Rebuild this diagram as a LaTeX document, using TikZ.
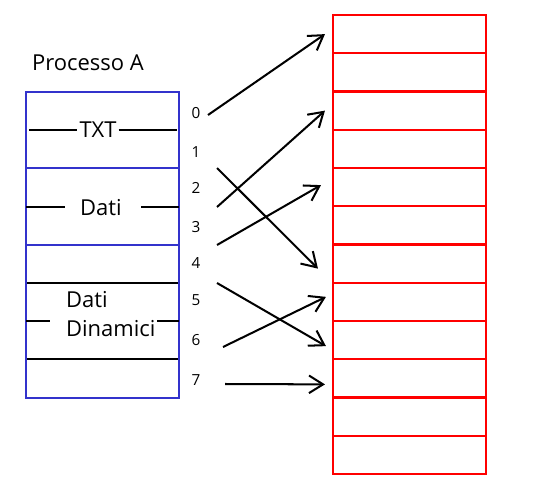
\documentclass[tikz,border=0pt]{standalone}
\usepackage{fontspec}
\setmainfont{Open Sans}
\usetikzlibrary{arrows.meta}
\definecolor{procblue}{RGB}{51,51,204}
\tikzset{
  cell/.style={draw=red,line width=1.2pt,minimum width=3.06cm,minimum height=0.765cm,inner sep=0pt},
  lbl/.style={font=\fontsize{12.5}{16.4}\selectfont,inner sep=1pt},
  num/.style={font=\fontsize{8.7}{10}\selectfont,inner sep=1pt},
  map/.style={line width=1.15pt,-{Straight Barb[length=8pt,width=10pt]}}
}
\begin{document}
\begin{tikzpicture}[x=0.02cm,y=-0.02cm]
\useasboundingbox (0,0) rectangle (536,496);
% memoria fisica
\foreach \i in {0,...,11}{
	\node[cell] (p\i) at (409.5,{15+38.25*\i+19.125}) {};}
% processo A
\node[lbl] (title) at (88,63) {Processo A};
\draw[black,line width=1.1pt] (26,283) -- (179,283);
\draw[black,line width=1.1pt] (26,359) -- (179,359);
\draw[procblue,line width=1.1pt] (26,168) -- (179,168);
\draw[procblue,line width=1.1pt] (26,245) -- (179,245);
\draw[procblue,line width=1.1pt] (26,92) rectangle (179,398);
\node[lbl] (txt) at (98,130) {TXT};
\draw[line width=1.1pt] (29,130) -- (txt.west);
\draw[line width=1.1pt] (txt.east) -- (177,130);
\node[lbl] (dati) at (101,208) {Dati};
\draw[line width=1.1pt] (26,207) -- (65,207);
\draw[line width=1.1pt] (141,207) -- (179,207);
\node[lbl,align=left,anchor=west] (din) at (64,314) {Dati\\Dinamici};
\draw[line width=1.1pt] (26,321) -- (50,321);
\draw[line width=1.1pt] (157,321) -- (179,321);
% pagine
\foreach \n/\y in {0/113,1/152,2/188,3/227,4/263,5/300,6/340,7/380}{
	\node[num] (n\n) at (196,\y) {\n};}
\coordinate (s0) at (208,115);
\coordinate (s1) at (217,168);
\coordinate (s2) at (217,207);
\coordinate (s3) at (217,245);
\coordinate (s4) at (217,283);
\coordinate (s6) at (223,347);
\coordinate (s7) at (225,384);
\draw[map] (s0) -- ([xshift=-0.14cm,yshift=0cm]p0.west);
\draw[map] (s1) -- ([xshift=-0.28cm,yshift=-0.1cm]p6.west);
\draw[map] (s2) -- ([xshift=-0.14cm,yshift=0cm]p2.west);
\draw[map] (s3) -- ([xshift=-0.22cm,yshift=0.04cm]p4.west);
\draw[map] (s4) -- ([xshift=-0.12cm,yshift=-0.12cm]p8.west);
\draw[map] (s6) -- ([xshift=-0.12cm,yshift=0.1cm]p7.west);
\draw[map] (s7) -- ([xshift=-0.14cm,yshift=-0.12cm]p9.west);
\end{tikzpicture}
\end{document}
